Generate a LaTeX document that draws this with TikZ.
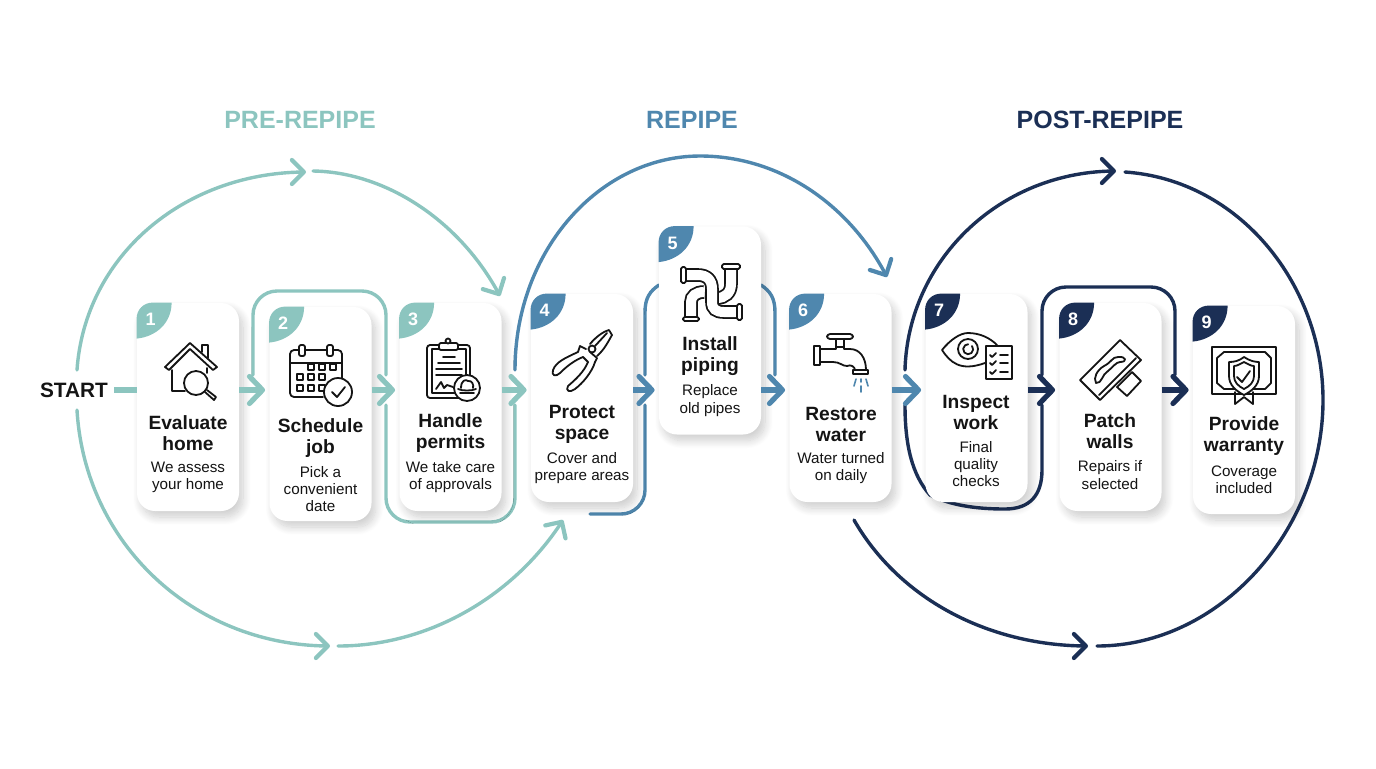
\documentclass[tikz,border=0pt]{standalone}
\usepackage{fontspec}
\setmainfont{Liberation Sans}
\usepackage{xcolor}
\usepackage{tikz}
\usetikzlibrary{shadows.blur,arrows.meta,bending,positioning}
\definecolor{precolor}{HTML}{8CC5BF}
\definecolor{midcolor}{HTML}{4F87AE}
\definecolor{postcolor}{HTML}{1B2F55}
\definecolor{inkcolor}{HTML}{141414}
\tikzset{
  card/.style={fill=white,rounded corners=9pt,inner sep=0pt,minimum width=51pt,minimum height=104pt,
    blur shadow={shadow xshift=2pt,shadow yshift=-3pt,shadow blur steps=14,shadow blur radius=4pt,shadow opacity=20}},
  cardtitle/.style={align=center,inner sep=0pt,text=inkcolor,font=\fontsize{9.6}{10.5}\selectfont\bfseries},
  cardtext/.style={align=center,inner sep=0pt,text=inkcolor,font=\fontsize{7.6}{8.6}\selectfont},
  badgenum/.style={text=white,inner sep=0pt,font=\fontsize{9}{9}\selectfont\bfseries},
  phase/.style={inner sep=0pt,font=\fontsize{12.5}{12.5}\selectfont\bfseries},
  loopline/.style={line width=1.7pt,line cap=round},
  looptip/.style={loopline,-{Straight Barb[round,line width=2.1pt,length=6pt,width=12pt]}},
  flow/.style={line width=2.6pt,-{Straight Barb[round,length=6.5pt,width=13.5pt]},shorten >=2pt},
  icon/.style={draw=inkcolor,line width=.9pt,line join=round,line cap=round},
  pipe/.style={draw=inkcolor,line width=.9pt,double=white,double distance=5pt}
}
\newcommand{\cardbadge}[4]{%
  \begin{scope}[shift={(#1.north west)}]
    \fill[#2] (0,36) -- (0,16) .. controls (0,7) and (7,0) .. (16,0) -- (35,0)
      .. controls (35,20) and (20,34) .. (0,36) -- cycle;
    \node[badgenum] (#3) at (14,17) {#4};
  \end{scope}}

\begin{document}
\begin{tikzpicture}[x=.5pt,y=-.5pt]
    \useasboundingbox (0,0) rectangle (1376,768);

    % free ends of the big loops
    \coordinate (preA) at (77,370);
    \coordinate (preB) at (306,172);
    \coordinate (preC) at (313,171);
    \coordinate (preD) at (500,296);
    \coordinate (preE) at (77,410);
    \coordinate (preF) at (330,646);
    \coordinate (preG) at (338,646);
    \coordinate (preH) at (563,520);
    \coordinate (midA) at (515,370);
    \coordinate (midB) at (887,277);
    \coordinate (postA) at (905,370);
    \coordinate (postB) at (1116,171);
    \coordinate (postC) at (1125,172);
    \coordinate (postD) at (1097,646);
    \coordinate (postE) at (854,520);
    \coordinate (postF) at (1088,646);

    % free ends of the small loops
    \coordinate (preI) at (253,375);
    \coordinate (preJ) at (386,375);
    \coordinate (preK) at (386,405);
    \coordinate (preL) at (515,405);
    \coordinate (midC) at (645,375);
    \coordinate (midD) at (659,285);
    \coordinate (midE) at (761,285);
    \coordinate (midF) at (775,375);
    \coordinate (midG) at (645,405);
    \coordinate (midH) at (590,514);
    \coordinate (postG) at (905,405);
    \coordinate (postH) at (930,495);
    \coordinate (postI) at (1042,405);
    \coordinate (postJ) at (1042,375);
    \coordinate (postK) at (1175,375);

    \draw[looptip,precolor] (preA) .. controls (85,255) and (185,172) .. (preB);
    \draw[looptip,precolor] (preC) .. controls (385,172) and (460,220) .. (preD);
    \draw[looptip,precolor] (preE) .. controls (85,545) and (195,646) .. (preF);
    \draw[looptip,precolor] (preG) .. controls (430,646) and (515,595) .. (preH);
    \draw[loopline,precolor,rounded corners=12pt] (preI) -- ++(0,-84) -- ++(133,0) -- (preJ);
    \draw[loopline,precolor,rounded corners=12pt] (preK) -- ++(0,117) -- ++(129,0) -- (preL);

    \draw[looptip,midcolor] (midA) .. controls (515,250) and (600,156) .. (700,156)
      .. controls (780,156) and (850,205) .. (midB);
    \draw[loopline,midcolor] (midC) -- (645,312) .. controls (645,298) and (650,291) .. (midD);
    \draw[loopline,midcolor] (midE) .. controls (770,291) and (775,298) .. (775,312) -- (midF);
    \draw[loopline,midcolor,rounded corners=12pt] (midG) -- (645,514) -- (midH);

    \draw[looptip,postcolor] (postA) .. controls (908,260) and (1000,171) .. (postB);
    \draw[looptip,postcolor] (postE) .. controls (900,600) and (990,646) .. (postF);
    \draw[loopline,postcolor] (postC) .. controls (1240,180) and (1323,285) .. (1323,400)
      .. controls (1323,530) and (1220,646) .. (postD);
    \draw[loopline,postcolor] (postG) .. controls (905,445) and (912,475) .. (postH)
      .. controls (950,505) and (975,509) .. (1005,509) .. controls (1030,509) and (1042,495) .. (1042,470) -- (postI);
    \draw[loopline,postcolor,rounded corners=12pt] (postJ) -- ++(0,-88) -- ++(133,0) -- (postK);

    % cards
    \node[card] (card1) at (188,407) {};
    \node[card,minimum height=107pt] (card2) at (320.5,414) {};
    \node[card] (card3) at (450.5,407) {};
    \node[card] (card4) at (582,398) {};
    \node[card] (card5) at (710,330.5) {};
    \node[card] (card6) at (840.5,398) {};
    \node[card] (card7) at (976.5,398) {};
    \node[card] (card8) at (1110.5,407) {};
    \node[card] (card9) at (1244,410) {};

    \cardbadge{card1}{precolor}{num1}{1}
    \cardbadge{card2}{precolor}{num2}{2}
    \cardbadge{card3}{precolor}{num3}{3}
    \cardbadge{card4}{midcolor}{num4}{4}
    \cardbadge{card5}{midcolor}{num5}{5}
    \cardbadge{card6}{midcolor}{num6}{6}
    \cardbadge{card7}{postcolor}{num7}{7}
    \cardbadge{card8}{postcolor}{num8}{8}
    \cardbadge{card9}{postcolor}{num9}{9}

    \node[cardtitle] (title1) at (188,433) {Evaluate\\home};
    \node[cardtext] (text1) at (188,477) {We assess\\your home};
    \node[cardtitle] (title2) at (320.5,438) {Schedule\\job};
    \node[cardtext] (text2) at (320.5,489) {Pick a\\convenient\\date};
    \node[cardtitle] (title3) at (450.5,433) {Handle\\permits};
    \node[cardtext] (text3) at (450.5,477) {We take care\\of approvals};
    \node[cardtitle] (title4) at (582,424) {Protect\\space};
    \node[cardtext] (text4) at (582,468) {Cover and\\prepare areas};
    \node[cardtitle] (title5) at (710,356.5) {Install\\piping};
    \node[cardtext] (text5) at (710,400.5) {Replace\\old pipes};
    \node[cardtitle] (title6) at (841,424) {Restore\\water};
    \node[cardtext] (text6) at (841,468) {Water turned\\on daily};
    \node[cardtitle] (title7) at (976,412) {Inspect\\work};
    \node[cardtext] (text7) at (976,464) {Final\\quality\\checks};
    \node[cardtitle] (title8) at (1110,431.5) {Patch\\walls};
    \node[cardtext] (text8) at (1110,475) {Repairs if\\selected};
    \node[cardtitle] (title9) at (1244,436.5) {Provide\\warranty};
    \node[cardtext] (text9) at (1244,480) {Coverage\\included};

    % house
    \draw[icon] (165,367) -- (190,343) -- (217,367) -- (213,370) -- (190,349) -- (169,370) -- cycle;
    \draw[icon] (202,352) -- (202,345) -- (208,345) -- (208,358);
    \draw[icon] (172,370) -- (172,391) -- (185,391);
    \draw[icon] (207,368) -- (207,373);
    \draw[icon] (196,383) circle (12);
    \draw[icon] (205,392) -- (214,400) -- (216,397) -- (207,390);

    % calendar
    \draw[icon,rounded corners=2pt] (323,397) -- (290,397) -- (290,350) -- (342,350) -- (342,378);
    \draw[icon] (290,363) -- (342,363);
    \foreach \x in {302,330}{
      \draw[icon,fill=white,rounded corners=1pt] (\x-3,345) rectangle (\x+3,356);
    }
    \foreach \x in {311,322,333}{
      \draw[icon] (\x-3,364) rectangle (\x+3,370);
    }
    \foreach \x in {300,311,322}{
      \draw[icon] (\x-3,374) rectangle (\x+3,380);
      \draw[icon] (\x-3,385) rectangle (\x+3,391);
    }
    \draw[icon,fill=white] (338,392) circle (14);
    \draw[icon] (332,392) -- (337,397) -- (345,387);

    % clipboard
    \draw[icon,rounded corners=1.5pt] (427,345) rectangle (470,398);
    \draw[icon] (432,349) rectangle (466,393);
    \draw[icon,fill=white,rounded corners=1pt] (439,343) rectangle (458,350);
    \draw[icon,fill=white] (448,341) circle (2.5);
    \draw[icon] (443,357) -- (455,357);
    \draw[icon] (438,363) -- (460,363);
    \draw[icon] (436,369) -- (462,369);
    \draw[icon] (436,375) -- (462,375);
    \draw[icon] (436,389) -- (441,382) -- (444,388) -- (447,385) -- (453,387);
    \draw[icon,fill=white] (467,388) circle (13);
    \draw[icon] (460,393) -- (474,393) (458,389) .. controls (462,391) and (472,391) .. (476,389);
    \draw[icon] (461,388) .. controls (461,380) and (466,379) .. (468,381) .. controls (472,380) and (474,385) .. (473,388);

    % pliers
    \draw[icon] (578,352) .. controls (565,358) and (556,362) .. (553,370) .. controls (551,376) and (556,377) .. (560,373)
      .. controls (567,366) and (575,360) .. (583,357);
    \draw[icon] (588,362) .. controls (584,372) and (575,380) .. (568,386) .. controls (565,391) and (570,393) .. (575,389)
      .. controls (583,383) and (592,372) .. (595,362);
    \draw[icon] (578,352) -- (580,346) -- (586,349) (583,357) -- (588,362) (595,362) -- (597,358) -- (590,352);
    \draw[icon] (590,344) .. controls (595,338) and (602,332) .. (609,330) -- (612,335) .. controls (608,342) and (604,350) .. (597,356);
    \draw[icon] (595,346) -- (607,333);
    \draw[icon,fill=white] (592,349) circle (3.5);

    % pipes
    \draw[pipe] (691,317) -- (691,302) .. controls (691,296) and (696,292) .. (704,292);
    \draw[pipe] (731,268) -- (731,284) .. controls (731,293) and (725,298) .. (717,298);
    \draw[pipe] (686,275) -- (698,275) .. controls (707,275) and (712,280) .. (712,289) -- (712,302)
      .. controls (712,309) and (716,312) .. (724,312) -- (737,312);
    \draw[icon,fill=white,rounded corners=.8pt] (681,267) rectangle (686,283);
    \draw[icon,fill=white,rounded corners=.8pt] (737,304) rectangle (742,320);
    \draw[icon,fill=white,rounded corners=.8pt] (683,317) rectangle (699,321);
    \draw[icon,fill=white,rounded corners=.8pt] (722,264) rectangle (740,269);

    % faucet
    \draw[icon,fill=white,rounded corners=1.5pt] (827,334) rectangle (853,339);
    \draw[icon] (836,339) -- (836,347) (844,339) -- (844,347);
    \draw[icon] (814,346) rectangle (820,365);
    \draw[icon] (820,349) -- (836,349) -- (836,347) -- (844,347) -- (844,349) -- (850,349)
      .. controls (860,349) and (866,358) .. (866,370);
    \draw[icon] (820,362) -- (833,362) .. controls (840,362) and (842,366) .. (847,366) .. controls (851,364) and (855,367) .. (855,370);
    \draw[icon,fill=white] (853,370) rectangle (868,374);
    \draw[midcolor,line width=.8pt,line cap=round] (856,379) -- (854,386) (861,379) -- (861,382) (861,386) -- (861,392)
      (866,379) -- (868,386);

    % eye and checklist
    \draw[icon] (985,363) .. controls (960,372) and (950,362) .. (942,350) .. controls (950,340) and (960,333) .. (968,333)
      .. controls (980,333) and (990,338) .. (997,345);
    \draw[icon] (968,349) circle (10);
    \draw[icon] (972,346) arc (-40:270:5);
    \draw[icon,fill=white] (986,346) rectangle (1012,379);
    \foreach \y in {355,363,372}{
      \draw[icon] (990,\y) -- (992,\y+2) -- (996,\y-2);
      \draw[icon] (1000,\y) -- (1008,\y);
    }

    % trowel
    \draw[icon,fill=white] (1117,387) -- (1132,372) -- (1141,381) -- (1127,396) -- cycle;
    \draw[icon,fill=white] (1120,340) -- (1141,360) -- (1100,400) -- (1080,380) -- cycle;
    \draw[icon] (1136,358) -- (1099,395);
    \draw[icon] (1096,383) .. controls (1093,378) and (1097,370) .. (1104,366) .. controls (1112,362) and (1112,357) .. (1118,357)
      .. controls (1126,356) and (1128,362) .. (1120,362) .. controls (1116,362) and (1112,368) .. (1108,371)
      .. controls (1102,374) and (1102,384) .. (1096,383) -- cycle;

    % certificate
    \draw[icon] (1212,347) rectangle (1276,394);
    \draw[icon] (1224,352) -- (1265,352) -- (1271,358) -- (1271,383) -- (1265,389) -- (1224,389) -- (1217,383) -- (1217,358) -- cycle;
    \draw[icon] (1235,392) -- (1235,404) -- (1244,397) -- (1253,404) -- (1253,392);
    \draw[icon,fill=white] (1244,357) .. controls (1250,361) and (1255,362) .. (1259,362) -- (1259,376)
      .. controls (1259,385) and (1252,391) .. (1244,395) .. controls (1236,391) and (1229,385) .. (1229,376)
      -- (1229,362) .. controls (1234,362) and (1239,361) .. (1244,357) -- cycle;
    \draw[icon] (1244,362) .. controls (1248,364) and (1251,366) .. (1254,366) -- (1254,376)
      .. controls (1254,382) and (1250,386) .. (1244,389) .. controls (1238,386) and (1234,382) .. (1234,376)
      -- (1234,366) .. controls (1237,366) and (1240,364) .. (1244,362) -- cycle;
    \draw[icon] (1237,377) -- (1242,382) -- (1250,371);

    % labels
    \node[phase,text=precolor] (prelabel) at (300,120) {PRE-REPIPE};
    \node[phase,text=midcolor] (midlabel) at (692,120) {REPIPE};
    \node[phase,text=postcolor] (postlabel) at (1100,120) {POST-REPIPE};
    \node[inner sep=0pt,text=inkcolor,font=\fontsize{10.4}{10.4}\selectfont\bfseries] (start) at (74,390) {START};

    % arrows
    \draw[line width=2.6pt,precolor] (start.east) ++(6,0) -- (card1.west |- start);
    \draw[flow,precolor] (card1.east |- start) -- (card2.west |- start);
    \draw[flow,precolor] (card2.east |- start) -- (card3.west |- start);
    \draw[flow,precolor] (card3.east |- start) -- (card4.west |- start);
    \draw[flow,midcolor] (card4.east |- start) -- (card5.west |- start);
    \draw[flow,midcolor] (card5.east |- start) -- (card6.west |- start);
    \draw[flow,midcolor] (card6.east |- start) -- (card7.west |- start);
    \draw[flow,postcolor] (card7.east |- start) -- (card8.west |- start);
    \draw[flow,postcolor] (card8.east |- start) -- (card9.west |- start);

\end{tikzpicture}
\end{document}
